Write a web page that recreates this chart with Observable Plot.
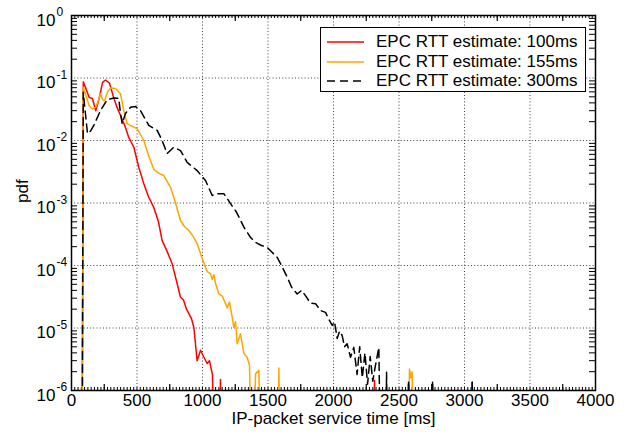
<!DOCTYPE html>
<html>
<head>
<meta charset="utf-8">
<script src="https://cdn.jsdelivr.net/npm/d3@7"></script>
<script src="https://cdn.jsdelivr.net/npm/@observablehq/plot@0.6"></script>
<style>
  body { margin: 0; background: #fff; font-family: "Liberation Sans", Arial, sans-serif; }
  #wrap { position: relative; width: 627px; height: 436px; }
  .legend { position: absolute; left: 320px; top: 27px; width: 264px; height: 63px;
            border: 1px solid #000; background: #fff; font-size: 17px; color: #000; }
  .legend .row { position: absolute; left: 0; height: 20px; width: 100%; }
  .legend svg { position: absolute; left: 6px; top: 0; }
  .legend span { position: absolute; left: 55px; top: 0; line-height: 20px; white-space: nowrap; }
</style>
</head>
<body>
<div id="wrap"></div>
<script>
// Service time samples (ms) and pdf values for each EPC RTT estimate.
// Values of 1e-8 are empty bins (below the 1e-6 floor of the plot).
const t100 = [80, 90, 135, 160, 185, 216, 237, 260, 290, 321, 344, 374, 412, 437, 476, 514, 552, 588, 628, 664,
  692, 725, 768, 802, 832, 855, 878, 896, 916, 934, 959, 985, 1008, 1036, 1053, 1076, 1100, 1125, 1137, 1150,
  2300, 2313, 2326];
const pdf100 = [1e-8, 0.087, 0.049, 0.047, 0.030, 0.052, 0.085, 0.093, 0.083, 0.049, 0.0355, 0.0251, 0.0162,
  0.0112, 0.0078, 0.0037, 0.00204, 0.00126, 0.00085, 0.0005, 0.00025, 0.000178, 0.000107, 5.6e-5, 3.1e-5, 2.8e-5,
  2.0e-5, 1.7e-5, 1.41e-5, 1.02e-5, 3.0e-6, 4.4e-6, 3.5e-6, 2.7e-6, 3.0e-6, 1.8e-6, 1e-8, 1e-8, 1.5e-6, 1e-8,
  1e-8, 1.45e-6, 1e-8];

const t155 = [80, 90, 135, 160, 185, 211, 221, 237, 252, 275, 298, 336, 374, 399, 425, 450, 501, 552, 590, 628,
  664, 705, 756, 794, 832, 863, 896, 924, 959, 992, 1023, 1038, 1061, 1074, 1087, 1099, 1125, 1153, 1189, 1206,
  1227, 1239, 1252, 1265, 1290, 1316, 1341, 1359, 1379, 1405, 1430, 1456, 1570, 1583, 1596, 2565, 2580, 2590,
  2600, 2612];
const pdf155 = [1e-8, 0.071, 0.036, 0.032, 0.034, 0.047, 0.056, 0.045, 0.043, 0.060, 0.069, 0.068, 0.056, 0.030,
  0.0186, 0.0174, 0.0155, 0.010, 0.0056, 0.00347, 0.0030, 0.00275, 0.00178, 0.0010, 0.000525, 0.000417, 0.000363,
  0.000302, 0.000224, 0.000141, 9.3e-5, 7.9e-5, 7.4e-5, 6.0e-5, 7.1e-5, 5.2e-5, 3.5e-5, 3.2e-5, 2.1e-5, 2.6e-5,
  1.48e-5, 1.02e-5, 1.26e-5, 5.6e-6, 8.1e-6, 3.9e-6, 3.4e-6, 2.5e-6, 1e-8, 1.86e-6, 2.1e-6, 1e-8, 1e-8, 2.3e-6,
  1e-8, 1e-8, 2.2e-6, 1.6e-6, 2.0e-6, 1e-8];

const t300 = [80, 90, 122, 145, 170, 221, 272, 323, 361, 374, 387, 412, 450, 489, 527, 590, 654, 692, 730, 781,
  832, 883, 959, 1023, 1074, 1112, 1163, 1214, 1260, 1316, 1366, 1405, 1450, 1494, 1527, 1570, 1603, 1647, 1680,
  1723, 1756, 1786, 1824, 1863, 1901, 1939, 1962, 1990, 2008, 2028, 2046, 2066, 2084, 2104, 2130, 2155, 2180,
  2200, 2220, 2240, 2260, 2280, 2300, 2320, 2346, 2365, 2395, 2405, 2418, 2560, 2573, 2586, 2745, 2756, 2768,
  3048, 3059, 3070];
const pdf300 = [1e-8, 0.059, 0.0129, 0.0141, 0.0174, 0.030, 0.045, 0.048, 0.047, 0.027, 0.0186, 0.027, 0.034,
  0.035, 0.030, 0.0174, 0.0145, 0.010, 0.0062, 0.0078, 0.0069, 0.00447, 0.0033, 0.00229, 0.00132, 0.00141,
  0.00141, 0.00098, 0.00071, 0.00041, 0.000282, 0.000234, 0.000209, 0.000195, 0.000166, 0.000135, 0.0001, 6.5e-5,
  4.5e-5, 3.5e-5, 4.0e-5, 3.3e-5, 2.5e-5, 2.45e-5, 1.9e-5, 1.78e-5, 1.41e-5, 1.10e-5, 1.26e-5, 6.8e-6, 8.9e-6,
  7.6e-6, 5.0e-6, 5.6e-6, 3.4e-6, 4.9e-6, 1.8e-6, 5.0e-6, 1.6e-6, 4.0e-6, 1.26e-6, 3.5e-6, 1.41e-6, 2.5e-6,
  4.9e-6, 1e-8, 1e-8, 1.95e-6, 1e-8, 1e-8, 1.35e-6, 1e-8, 1e-8, 1.35e-6, 1e-8, 1e-8, 1.35e-6, 1e-8];

const seriesNames = ["EPC RTT estimate: 100ms", "EPC RTT estimate: 155ms", "EPC RTT estimate: 300ms"];
const seriesColors = ["#ff0000", "#ffa500", "#000000"];

// Axis ticks and labels
const xTickLabels = [0, 500, 1000, 1500, 2000, 2500, 3000, 3500, 4000];
const xGrid = [500, 1000, 1500, 2000, 2500, 3000, 3500];
const xMidTicks = [250, 750, 1250, 1750, 2250, 2750, 3250, 3750];
const yTicks = [1, 1e-1, 1e-2, 1e-3, 1e-4, 1e-5, 1e-6];
const yTickExponents = ["0", "-1", "-2", "-3", "-4", "-5", "-6"];
const yGrid = [1e-1, 1e-2, 1e-3, 1e-4, 1e-5];

const xMinor = d3.range(0, 4001, 25);
const yMinor = [];
for (let k = -6; k < 0; k++) for (let m = 2; m <= 9; m++) yMinor.push(m * Math.pow(10, k));

const toRows = (t, p) => t.map((x, i) => ({x, y: p[i]}));
const rows = [toRows(t100, pdf100), toRows(t155, pdf155), toRows(t300, pdf300)];
// isolated single-bin spikes in the 300ms tail, drawn solid so the dash gaps don't hide them
const tail300 = rows[2].filter(d => d.x >= 2550);

const innerW = 627 - 71 - 32;
const innerH = 436 - 15 - 46;

const chart = Plot.plot({
  width: 627,
  height: 436,
  marginLeft: 71,
  marginRight: 32,
  marginTop: 15,
  marginBottom: 46,
  x: {domain: [0, 4000], axis: null},
  y: {type: "log", domain: [1e-6, 1], axis: null},
  style: {fontFamily: "'Liberation Sans', Arial, sans-serif", fontSize: "17px", color: "#000", background: "#fff"},
  marks: [
    Plot.gridX(xGrid, {stroke: "#000", strokeOpacity: 0.75, strokeDasharray: "1,2.2", strokeWidth: 1}),
    Plot.gridY(yGrid, {stroke: "#000", strokeOpacity: 0.75, strokeDasharray: "1,2.2", strokeWidth: 1}),
    // minor and mid ticks on bottom and top edges
    Plot.tickX(xMinor, {x: d => d, insetTop: innerH - 3, stroke: "#000", strokeWidth: 1}),
    Plot.tickX(xMinor, {x: d => d, insetBottom: innerH - 3, stroke: "#000", strokeWidth: 1}),
    Plot.tickX(xMidTicks, {x: d => d, insetTop: innerH - 6, stroke: "#000", strokeWidth: 1.2}),
    Plot.tickX(xMidTicks, {x: d => d, insetBottom: innerH - 6, stroke: "#000", strokeWidth: 1.2}),
    // log minor ticks on left and right edges
    Plot.tickY(yMinor, {y: d => d, insetRight: innerW - 6, stroke: "#000", strokeWidth: 1}),
    Plot.tickY(yMinor, {y: d => d, insetLeft: innerW - 6, stroke: "#000", strokeWidth: 1}),
    // curves
    Plot.line(rows[0], {x: "x", y: "y", stroke: seriesColors[0], strokeWidth: 1.5, clip: true}),
    Plot.line(rows[1], {x: "x", y: "y", stroke: seriesColors[1], strokeWidth: 1.5, clip: true}),
    Plot.line(rows[2], {x: "x", y: "y", stroke: seriesColors[2], strokeWidth: 1.5, strokeDasharray: "8,5", clip: true}),
    Plot.line(tail300, {x: "x", y: "y", stroke: seriesColors[2], strokeWidth: 1.5, clip: true}),
    Plot.frame({stroke: "#000", strokeWidth: 1.5}),
    // tick labels
    Plot.text(xTickLabels, {x: d => d, frameAnchor: "bottom", dy: 15, text: d => String(d), fontSize: 17, fill: "#000"}),
    Plot.text(yTicks, {y: d => d, frameAnchor: "left", dx: -16, dy: 5, textAnchor: "end", text: () => "10", fontSize: 17, fill: "#000"}),
    Plot.text(yTicks, {y: d => d, frameAnchor: "left", dx: -15, dy: -3, textAnchor: "start", text: (d, i) => yTickExponents[i], fontSize: 12, fill: "#000"}),
    // axis titles
    Plot.text(["IP-packet service time [ms]"], {frameAnchor: "bottom", dy: 33, text: d => d, fontSize: 17, fill: "#000"}),
    Plot.text(["pdf"], {frameAnchor: "left", dx: -49, rotate: -90, text: d => d, fontSize: 17, fill: "#000"})
  ]
});

const wrap = document.getElementById("wrap");
wrap.appendChild(chart);

// legend box drawn over the upper-right corner
const legend = document.createElement("div");
legend.className = "legend";
const rowTops = [4, 24, 43];
seriesNames.forEach((name, i) => {
  const row = document.createElement("div");
  row.className = "row";
  row.style.top = rowTops[i] + "px";
  const dash = i === 2 ? ' stroke-dasharray="8,5"' : "";
  row.innerHTML = `<svg width="38" height="20"><line x1="0" x2="37" y1="10" y2="10" stroke="${seriesColors[i]}" stroke-width="1.5"${dash}/></svg><span>${name}</span>`;
  legend.appendChild(row);
});
wrap.appendChild(legend);
</script>
</body>
</html>
